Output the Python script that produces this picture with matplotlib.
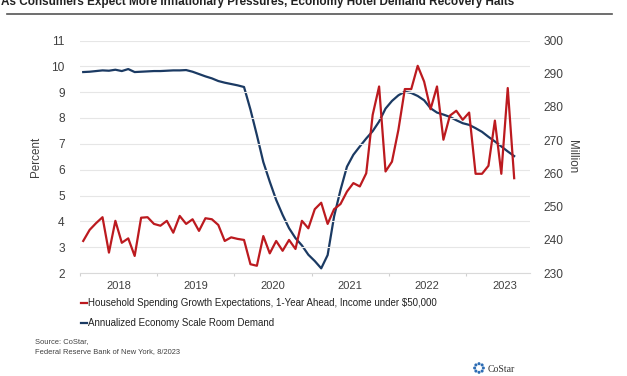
import numpy as np
import matplotlib
matplotlib.use("Agg")
import matplotlib.pyplot as plt

plt.rcParams['font.family'] = ['Liberation Sans', 'DejaVu Sans']

# monthly, Jan 2018 .. Aug 2023
start_year = 2018
spending = [3.24, 3.67, 3.93, 4.16, 2.79, 4.02, 3.17, 3.34, 2.66, 4.14, 4.16, 3.90,
            3.83, 4.02, 3.56, 4.21, 3.90, 4.08, 3.63, 4.12, 4.08, 3.86, 3.24, 3.38,
            3.32, 3.28, 2.34, 2.28, 3.43, 2.76, 3.24, 2.86, 3.28, 2.93, 4.02, 3.73,
            4.47, 4.72, 3.90, 4.47, 4.67, 5.15, 5.48, 5.35, 5.86, 8.12, 9.22, 5.93,
            6.31, 7.54, 9.12, 9.12, 10.02, 9.41, 8.34, 9.22, 7.16, 8.09, 8.28, 7.93,
            8.21, 5.84, 5.84, 6.15, 7.90, 5.84, 9.16, 5.67]
demand = [290.5, 290.6, 290.8, 291.0, 290.9, 291.2, 290.8, 291.4, 290.5, 290.6, 290.7, 290.8,
          290.8, 290.9, 291.0, 291.0, 291.1, 290.6, 289.9, 289.2, 288.6, 287.8, 287.3, 286.9,
          286.5, 286.0, 279.2, 271.5, 263.4, 257.5, 252.0, 247.5, 243.5, 240.5, 238.3, 235.5,
          233.6, 231.4, 235.4, 247.0, 255.0, 262.0, 265.6, 268.1, 270.5, 272.7, 275.6, 279.5,
          281.8, 283.5, 284.6, 284.2, 283.3, 282.0, 279.6, 278.3, 277.7, 277.0, 276.0, 275.1,
          274.6, 273.6, 272.5, 271.0, 269.6, 268.1, 266.6, 265.2]
years = [2018, 2019, 2020, 2021, 2022, 2023]

RED = "#BC1A1F"
BLUE = "#1B3A63"
TXT = "#404040"

x = start_year + (np.arange(len(spending)) + 0.5) / 12

fig = plt.figure(figsize=(6.27, 3.76), dpi=100)
ax = fig.add_axes([80/627, 1-273/376, 450/627, (273-40.5)/376])
ax2 = ax.twinx()

ax.plot(x, spending, color=RED, lw=1.6, zorder=3)
ax2.plot(x, demand, color=BLUE, lw=1.6, zorder=2)
ax.set_zorder(ax2.get_zorder() + 1)
ax.patch.set_visible(False)

ax.set_xlim(2018, 2023.83)
ax.set_ylim(2, 11)
ax.set_yticks(range(2, 12))
ax2.set_ylim(230, 300)
ax2.set_yticks(range(230, 301, 10))
ax.yaxis.grid(True, color="#E6E6E6", lw=0.8)
ax.set_axisbelow(True)

ax.set_xticks(years, [""] * len(years))
ax.set_xticks([y + 0.5 for y in years], [str(y) for y in years], minor=True)
ax.tick_params(axis="x", which="major", length=2, color="#D0D0D0")
ax.tick_params(axis="x", which="minor", length=0, labelsize=8, labelcolor=TXT, pad=6)
ax.tick_params(axis="y", length=0, labelsize=8.6, labelcolor=TXT, pad=11)
ax2.tick_params(axis="y", length=0, labelsize=8.6, labelcolor=TXT, pad=10)

for a in (ax, ax2):
    for s in a.spines.values():
        s.set_visible(False)
ax.spines["bottom"].set_visible(True)
ax.spines["bottom"].set_color("#D9D9D9")

ax.set_ylabel("Percent", fontsize=8.4, color=TXT, labelpad=7)
ax2.set_ylabel("Million", fontsize=8.4, color=TXT, rotation=270, labelpad=10)

# title (cut at top edge, as in the source image) and rule
fig.text(1/627, 1-5/376, "As Consumers Expect More Inflationary Pressures, Economy Hotel Demand Recovery Halts",
         fontsize=8.5, fontweight="bold", color="#222222", va="baseline", ha="left")
fig.add_artist(plt.Line2D([7/627, 612/627], [1-14/376, 1-14/376], color="#555555", lw=1.2))

# legend
for yy, col, lab in [(303, RED, "Household Spending Growth Expectations, 1-Year Ahead, Income under $50,000"),
                     (323, BLUE, "Annualized Economy Scale Room Demand")]:
    fig.add_artist(plt.Line2D([81/627, 87/627], [1-yy/376, 1-yy/376], color=col, lw=1.6))
    fig.text(88/627, 1-yy/376, lab, fontsize=7.0, color="#222222", va="center", ha="left")

fig.text(35/627, 1-342/376, "Source: CoStar,", fontsize=5.4, color=TXT, va="center")
fig.text(35/627, 1-352/376, "Federal Reserve Bank of New York, 8/2023", fontsize=5.4, color=TXT, va="center")

# logo
fig.text(488/627, 1-370/376, "CoStar", fontsize=7, family="Liberation Serif", color="#333333", va="center")
ang = np.linspace(0, 2*np.pi, 8, endpoint=False)
fig.add_artist(matplotlib.collections.EllipseCollection(
    [2.2]*8, [2.2]*8, [0]*8, units="points",
    offsets=np.c_[479/627 + 0.007*np.cos(ang), 1-368/376 + 0.0115*np.sin(ang)],
    offset_transform=fig.transFigure, facecolors="#2E6DB4"))

fig.savefig("out.png", dpi=100)
